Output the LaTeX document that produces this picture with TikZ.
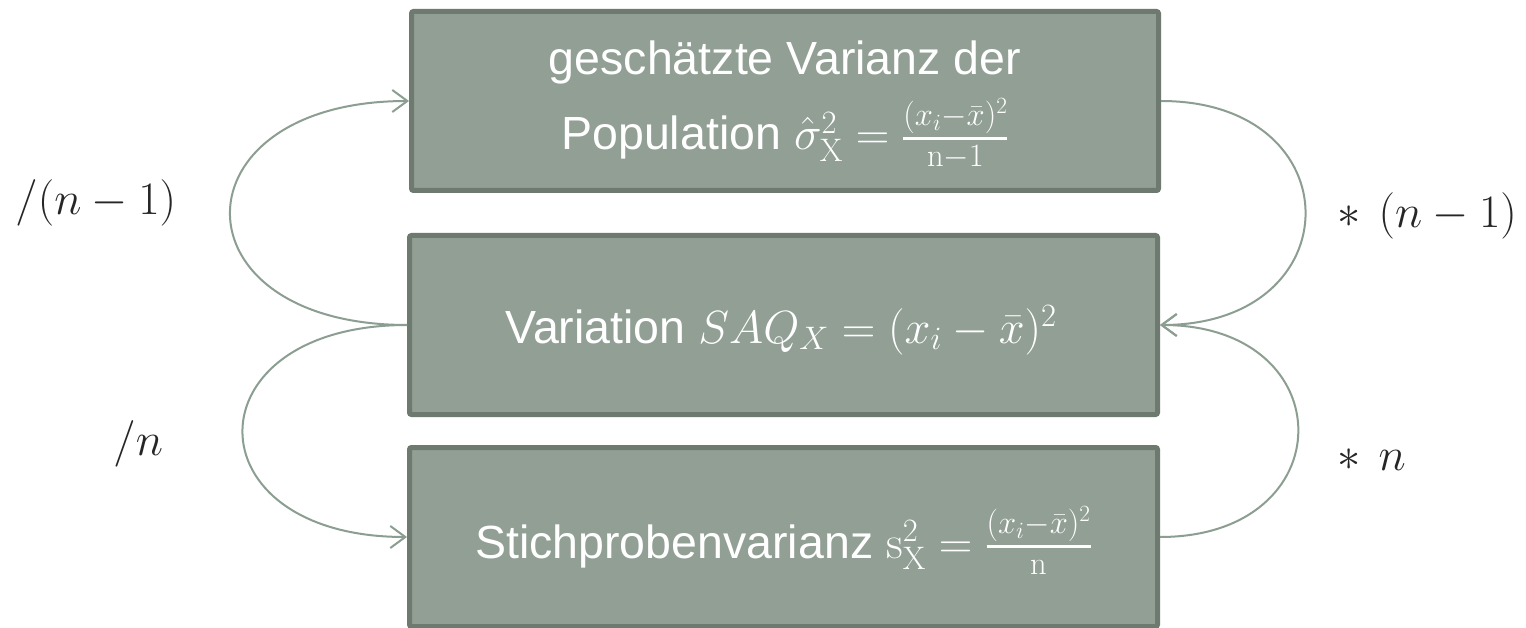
\RequirePackage{fix-cm}
\documentclass[tikz,border=0pt]{standalone}
\usepackage[no-math]{fontspec}
\setmainfont{Liberation Sans}
\usetikzlibrary{arrows.meta}
\definecolor{boxfill}{HTML}{919F95}
\definecolor{boxedge}{HTML}{6E7A70}
\definecolor{linkcol}{HTML}{8C9E92}
\definecolor{labcol}{HTML}{262626}
\newcommand{\myfrac}[2]{{#1\above 3pt #2}}
\begin{document}
\begin{tikzpicture}[x=1pt,y=-1pt,
  varbox/.style={draw=boxedge, line width=5pt, fill=boxfill, rounded corners=2pt,
    minimum height=179pt, inner sep=0pt},
  txt/.style={anchor=base, text=white, inner sep=0pt, font=\fontsize{46.5}{56}\selectfont},
  lab/.style={anchor=base west, text=labcol, inner sep=0pt, font=\fontsize{46.5}{56}\selectfont},
  link/.style={draw=linkcol, line width=2pt, -{Straight Barb[length=15pt,width=22pt,line width=2pt]}}
]
\useasboundingbox (0,0) rectangle (1526,628);
\clip (0,0) rectangle (1526,628);
\fill[white] (0,0) rectangle (1526,628);

\node[varbox, minimum width=747pt] (top) at (785,101) {};
\node[varbox, minimum width=748pt] (mid) at (783.5,325) {};
\node[varbox, minimum width=748pt] (bot) at (783.5,537) {};

\node[txt] (t1a) at (785,75) {geschätzte Varianz der};
\node[txt] (t1b) at (785,150) {Population $\hat{\sigma}^2_{\mathrm{X}}=\myfrac{(x_i{-}\bar{x})^2}{\mathrm{n-1}}$};
\node[txt] (t2) at (781,343) {Variation $SAQ_X=(x_i-\bar{x})^2$};
\node[txt] (t3) at (783.5,558) {Stichprobenvarianz $\mathrm{s}^2_{\mathrm{X}}=\myfrac{(x_i{-}\bar{x})^2}{\mathrm{n}}$};

\draw[link] (mid.west) .. controls +(-237,0) and +(-237,0) .. (top.west);
\draw[link] (mid.west) .. controls +(-219,0) and +(-219,0) .. (bot.west);
\draw[link] (top.east) .. controls +(193,0) and +(193,0) .. (mid.east);
\draw[link] (bot.east) .. controls +(184,0) and +(184,0) .. (mid.east);

\node[lab] (l1) at (15,215) {$/(n-1)$};
\node[lab] (l2) at (113,455) {$/n$};
\node[lab] (l3) at (1337,228) {$\ast\mskip7mu(n-1)$};
\node[lab] (l4) at (1337,470) {$\ast\mskip7mu n$};
\end{tikzpicture}
\end{document}
